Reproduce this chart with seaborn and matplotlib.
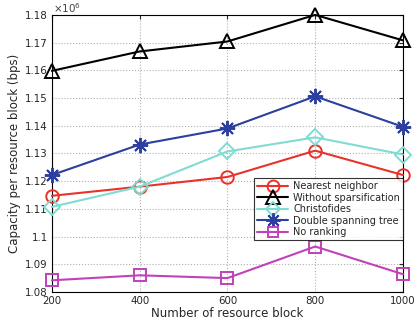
import matplotlib
matplotlib.use("Agg")
import matplotlib.pyplot as plt
import seaborn as sns
import pandas as pd

# Data (capacity in units of 1e6 bps)
blocks = [200, 400, 600, 800, 1000]
nearest_neighbor = [1.1147, 1.1180, 1.1215, 1.1310, 1.1222]
without_sparsification = [1.1598, 1.1668, 1.1704, 1.1800, 1.1708]
christofides = [1.1107, 1.1180, 1.1307, 1.1358, 1.1296]
double_spanning_tree = [1.1222, 1.1332, 1.1390, 1.1506, 1.1396]
no_ranking = [1.0842, 1.0860, 1.0850, 1.0964, 1.0864]

series_names = ["Nearest neighbor", "Without sparsification", "Christofides",
                "Double spanning tree", "No ranking"]
series_values = [nearest_neighbor, without_sparsification, christofides,
                 double_spanning_tree, no_ranking]
colors = ["#e8332b", "#000000", "#7fdcd2", "#2c3f9e", "#c041b8"]
markers = ["o", "^", "D", (8, 2, 0), "s"]
sizes = [9, 10, 8, 11, 8]

sns.set_style("white")
plt.rcParams["font.family"] = ["DejaVu Sans"]

fig = plt.figure(figsize=(4.15, 3.31), dpi=100)
ax = fig.add_axes([0.125, 0.118, 0.846, 0.837])

for name, vals, c, m, s in zip(series_names, series_values, colors, markers, sizes):
    df = pd.DataFrame({"x": blocks, "y": vals})
    sns.lineplot(data=df, x="x", y="y", ax=ax, color=c, marker=m, ms=s,
                 mfc="none", mec=c, mew=1.4, lw=1.5, label=name, clip_on=False,
                 zorder=3)

ax.set_xlim(200, 1000)
ax.set_ylim(1.08, 1.18)
ax.set_xticks(blocks)
yt = [1.08, 1.09, 1.10, 1.11, 1.12, 1.13, 1.14, 1.15, 1.16, 1.17, 1.18]
ax.set_yticks(yt)
ax.set_yticklabels(["%g" % v for v in yt])
ax.tick_params(axis="both", direction="in", top=True, right=True, labelsize=7.4,
               length=3, width=0.8, pad=3)
ax.grid(True, linestyle=":", color="#b0b0b0", linewidth=0.8)
for sp in ax.spines.values():
    sp.set_color("black")
    sp.set_linewidth(0.8)
ax.set_xlabel("Number of resource block", fontsize=8.5, labelpad=1)
ax.set_ylabel("Capacity per resource block (bps)", fontsize=8.5, labelpad=3)
fig.text(0.127, 0.997, r"$\times10^6$", fontsize=7.5, ha="left", va="top",
         color="#444444")

leg = ax.legend(loc="upper right", bbox_to_anchor=(1.0, 0.41), borderaxespad=0,
                fontsize=7, frameon=True, fancybox=False, edgecolor="black",
                handlelength=3.2, handletextpad=0.5, labelspacing=0.15,
                borderpad=0.3, markerscale=0.95)
leg.get_frame().set_linewidth(0.8)
leg.set_zorder(5)

fig.savefig("out.png", dpi=100)
